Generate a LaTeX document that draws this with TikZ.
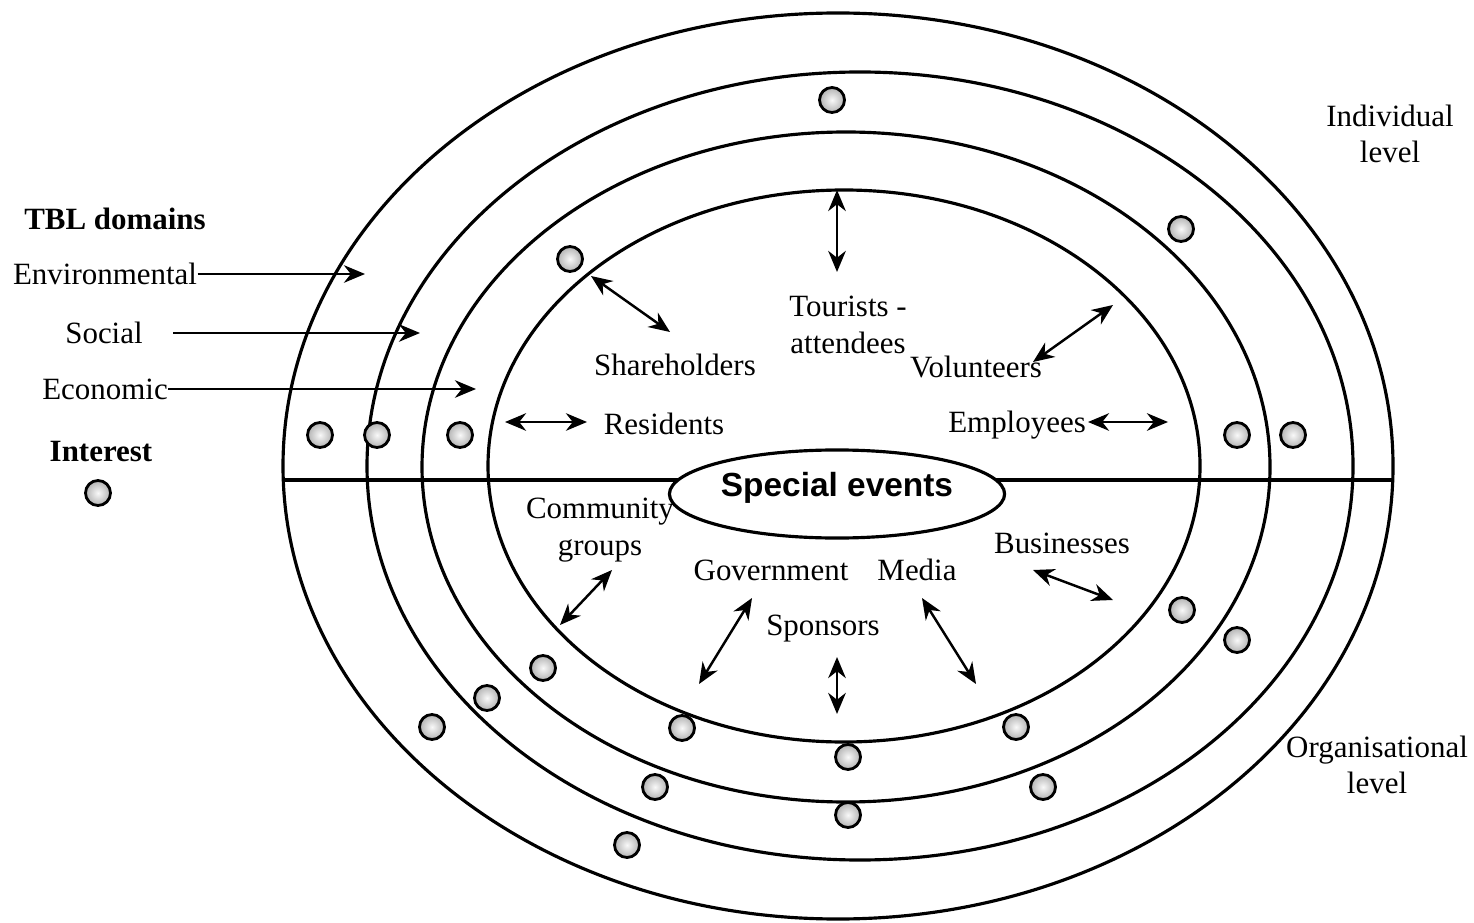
\documentclass[tikz,border=0pt]{standalone}
\usepackage{fontspec}
\setmainfont{Liberation Serif}
\newfontfamily\evfont{Liberation Sans}
\usepackage{tikz}
\usetikzlibrary{positioning, shapes.geometric, arrows.meta}

\begin{document}
\begin{tikzpicture}[x=0.01cm, y=-0.01cm,
  lbl/.style={font=\fontsize{8.8}{10.4}\selectfont, align=center, inner sep=0pt},
  hdr/.style={font=\fontsize{8.8}{10.4}\selectfont\bfseries, align=center, inner sep=0pt},
  ring/.style={line width=0.9pt},
  interest/.style={circle, draw, line width=0.8pt, inner sep=0pt, minimum size=0.25cm,
                   inner color=gray!5, outer color=gray!60},
  arr/.style={-{Stealth[length=6pt, width=5pt]}, line width=0.7pt},
  dbl/.style={{Stealth[length=6pt, width=5pt]}-{Stealth[length=6pt, width=5pt]}, line width=0.7pt}
]
  \useasboundingbox (0,0) rectangle (1474,922);

  % levels
  \draw[ring] (838,466) ellipse [x radius=555, y radius=453];
  \draw[ring] (860,466) ellipse [x radius=493, y radius=394];
  \draw[ring] (846,467) ellipse [x radius=424, y radius=335];
  \draw[ring] (844,466) ellipse [x radius=356, y radius=276];
  \draw[ring] (283,480) -- (1392,480);

  \node[ellipse, draw, ring, fill=white, minimum width=3.35cm, minimum height=0.88cm,
        inner sep=0pt, text depth=0.2cm, font=\evfont\fontsize{9.5}{11}\selectfont\bfseries]
    (special) at (837,494) {Special events};

  % legend
  \node[hdr] (tbl) at (115,219) {TBL domains};
  \node[lbl] (env) at (105,274) {Environmental};
  \node[lbl] (soc) at (104,333) {Social};
  \node[lbl] (eco) at (105,389) {Economic};
  \node[hdr] (intr) at (101,452) {Interest};
  \node[interest] (key) at (98,493) {};

  \node[lbl] (indiv) at (1390,134) {Individual\\level};
  \node[lbl] (org) at (1377,765) {Organisational\\level};

  \coordinate (envTip) at (365,273);
  \coordinate (socTip) at (420,333);
  \coordinate (ecoTip) at (476,390);
  \draw[arr] (env.east) -- (env.east -| envTip);
  \draw[arr] ([xshift=0.3cm]soc.east) -- (soc.east -| socTip);
  \draw[arr] (eco.east) -- (eco.east -| ecoTip);

  % stakeholders
  \node[lbl] (tour) at (848,325) {Tourists -\\attendees};
  \node[lbl] (share) at (675,365) {Shareholders};
  \node[lbl] (vol) at (976,367) {Volunteers};
  \node[lbl] (res) at (664,424) {Residents};
  \node[lbl] (emp) at (1017,425) {Employees};
  \node[lbl] (comm) at (600,530) {Community\\groups};
  \node[lbl] (gov) at (771,570) {Government};
  \node[lbl] (media) at (917,570) {Media};
  \node[lbl] (spons) at (823,629) {Sponsors};
  \node[lbl] (bus) at (1062,543) {Businesses};

  \coordinate (tourA) at (837,190);   \coordinate (tourB) at (837,272);
  \coordinate (shareA) at (591,276);  \coordinate (shareB) at (670,332);
  \coordinate (volA) at (1113,305);   \coordinate (volB) at (1033,362);
  \coordinate (resA) at (505,422);    \coordinate (resB) at (587,422);
  \coordinate (empA) at (1088,422);   \coordinate (empB) at (1168,422);
  \coordinate (commA) at (612,570);   \coordinate (commB) at (560,625);
  \coordinate (govA) at (752,598);    \coordinate (govB) at (699,684);
  \coordinate (sponsA) at (837,657);  \coordinate (sponsB) at (837,714);
  \coordinate (mediaA) at (922,598);  \coordinate (mediaB) at (976,684);
  \coordinate (busA) at (1033,570);   \coordinate (busB) at (1113,600);

  \draw[dbl] (tourA) -- (tourB);
  \draw[dbl] (shareA) -- (shareB);
  \draw[dbl] (volA) -- (volB);
  \draw[dbl] (resA) -- (resB);
  \draw[dbl] (empA) -- (empB);
  \draw[dbl] (commA) -- (commB);
  \draw[dbl] (govA) -- (govB);
  \draw[dbl] (sponsA) -- (sponsB);
  \draw[dbl] (mediaA) -- (mediaB);
  \draw[dbl] (busA) -- (busB);

  % interests
  \node[interest] (i1) at (832,100) {};
  \node[interest] (i2) at (1181,229) {};
  \node[interest] (i3) at (570,259) {};
  \node[interest] (i4) at (320,435) {};
  \node[interest] (i5) at (377,435) {};
  \node[interest] (i6) at (460,435) {};
  \node[interest] (i7) at (1237,435) {};
  \node[interest] (i8) at (1293,435) {};
  \node[interest] (i9) at (1182,610) {};
  \node[interest] (i10) at (1237,640) {};
  \node[interest] (i11) at (543,668) {};
  \node[interest] (i12) at (487,698) {};
  \node[interest] (i13) at (432,727) {};
  \node[interest] (i14) at (682,728) {};
  \node[interest] (i15) at (655,787) {};
  \node[interest] (i16) at (627,845) {};
  \node[interest] (i17) at (848,757) {};
  \node[interest] (i18) at (848,815) {};
  \node[interest] (i19) at (1016,727) {};
  \node[interest] (i20) at (1043,787) {};
\end{tikzpicture}
\end{document}
